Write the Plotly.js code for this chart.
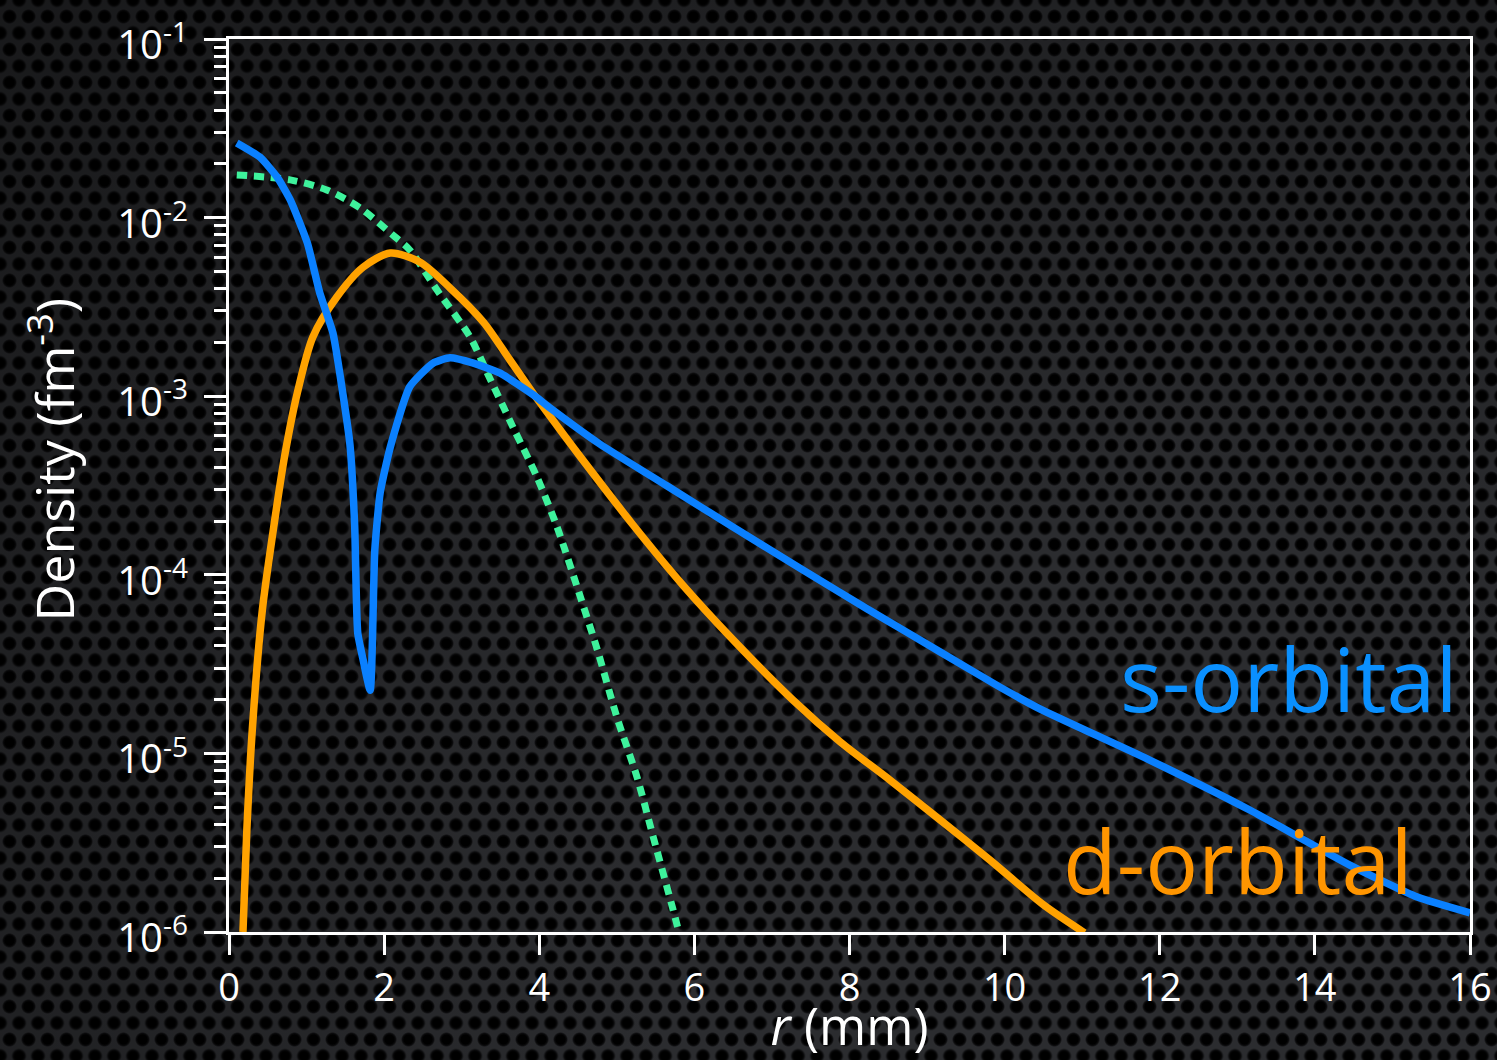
<!DOCTYPE html>
<html>
<head>
<meta charset="utf-8">
<script src="https://cdn.plot.ly/plotly-3.0.1.min.js"></script>
<style>
  html, body { margin:0; padding:0; width:1497px; height:1060px; overflow:hidden; }
  body {
    background-color:#2b2c2f;
    background-image:
      radial-gradient(circle at center, #000 4.5px, #0b0b0c 6px, rgba(0,0,0,0) 7.5px),
      radial-gradient(circle at center, #000 4.5px, #0b0b0c 6px, rgba(0,0,0,0) 7.5px);
    background-size:19px 33px, 19px 33px;
    background-position:0 0, 9.5px 16.5px;
  }
  #shade { position:absolute; left:0; top:0; width:1497px; height:1060px;
    background: radial-gradient(ellipse at 75% 85%, rgba(0,0,0,0) 30%, rgba(0,0,0,0.45) 100%); }
  #chart { position:absolute; left:0; top:0; width:1497px; height:1060px; }
</style>
</head>
<body>
<div id="shade"></div>
<div id="chart"></div>
<script>
// s-orbital density
const sX = [0.10, 0.40, 0.62, 0.79, 1.01, 1.17, 1.34, 1.47, 1.56, 1.62, 1.66, 1.73, 1.82, 1.88, 1.95, 2.08, 2.33, 2.63, 2.85, 3.15, 3.49, 3.92, 4.14, 4.78, 5.65, 6.50, 7.36, 8.23, 9.17, 9.94, 10.46, 11.87, 13.16, 14.45, 15.32, 16.0];
const sY = [0.0262, 0.0218, 0.01687, 0.01256, 0.00721, 0.00379, 0.00226, 1.02e-3, 5.33e-4, 1.9e-4, 4.72e-5, 3.33e-5, 2.26e-5, 1.38e-4, 2.9e-4, 5.20e-4, 1.13e-3, 1.53e-3, 1.64e-3, 1.53e-3, 1.35e-3, 1.02e-3, 8.59e-4, 5.40e-4, 3.14e-4, 1.85e-4, 1.09e-4, 6.44e-5, 3.70e-5, 2.35e-5, 1.77e-5, 9.18e-6, 4.82e-6, 2.37e-6, 1.57e-6, 1.28e-6];

// d-orbital density
const dX = [0.18, 0.23, 0.30, 0.43, 0.59, 0.72, 0.88, 1.08, 1.39, 1.73, 2.08, 2.46, 2.85, 3.28, 3.62, 3.92, 4.27, 4.56, 5.21, 5.85, 6.50, 7.27, 7.88, 8.52, 9.17, 9.81, 10.50, 11.03];
const dY = [1.0e-6, 3.72e-6, 1.35e-5, 6.35e-5, 2.03e-4, 4.69e-4, 1.04e-3, 2.14e-3, 3.59e-3, 5.28e-3, 6.33e-3, 5.64e-3, 4.04e-3, 2.60e-3, 1.60e-3, 1.04e-3, 6.47e-4, 4.40e-4, 1.90e-4, 8.77e-5, 4.32e-5, 1.99e-5, 1.16e-5, 7.10e-6, 4.24e-6, 2.53e-6, 1.42e-6, 9.9e-7];

// reference (dotted) density
const gX = [0.10, 0.79, 1.26, 1.69, 2.11, 2.33, 2.68, 3.11, 3.33, 3.66, 3.97, 4.23, 4.53, 4.75, 5.00, 5.26, 5.47, 5.72, 5.80];
const gY = [0.01734, 0.01626, 0.01429, 0.01133, 0.00800, 0.00659, 0.00394, 0.00214, 0.00135, 6.73e-4, 3.53e-4, 1.85e-4, 7.52e-5, 3.79e-5, 1.60e-5, 7.38e-6, 3.40e-6, 1.36e-6, 1.0e-6];

const xTickVals = [0, 2, 4, 6, 8, 10, 12, 14, 16];
const yTickVals = [1e-6, 1e-5, 1e-4, 1e-3, 1e-2, 1e-1];
const yTickText = ['10<sup>-6</sup>', '10<sup>-5</sup>', '10<sup>-4</sup>', '10<sup>-3</sup>', '10<sup>-2</sup>', '10<sup>-1</sup>'];

const minorVals = [];
for (let e = -6; e < -1; e++) for (let m = 2; m <= 9; m++) minorVals.push(m * Math.pow(10, e));

const FONT = '"Open Sans", "Noto Sans", sans-serif';

const traces = [
  { x: gX, y: gY, mode: 'lines', line: { color: '#3ef29c', width: 7, dash: '10px,7px', shape: 'spline', smoothing: 0.8 }, hoverinfo: 'skip' },
  { x: dX, y: dY, mode: 'lines', line: { color: '#ffa200', width: 7.5, shape: 'spline', smoothing: 0.8 }, hoverinfo: 'skip' },
  { x: sX, y: sY, mode: 'lines', line: { color: '#0a80ff', width: 7.5, shape: 'spline', smoothing: 0.5 }, hoverinfo: 'skip' }
];

const layout = {
  width: 1497, height: 1060,
  paper_bgcolor: 'rgba(0,0,0,0)', plot_bgcolor: 'rgba(0,0,0,0)',
  margin: { l: 229, r: 27, t: 39, b: 128 },
  showlegend: false,
  font: { family: FONT, color: '#ffffff' },
  xaxis: {
    range: [0, 16], tickvals: xTickVals, ticktext: xTickVals.map(String),
    ticks: 'outside', ticklen: 20, tickwidth: 3, tickcolor: '#fff',
    showline: true, mirror: true, linewidth: 3, linecolor: '#fff',
    showgrid: false, zeroline: false,
    tickfont: { size: 38, color: '#fff', family: FONT },
    ticklabelstandoff: 0,
    title: { text: '<i>r</i> (mm)', font: { size: 51, color: '#fff', family: FONT }, standoff: 7 }
  },
  yaxis: {
    type: 'log', range: [-6, -1], tickmode: 'array', tickvals: yTickVals, ticktext: yTickText,
    ticks: 'outside', ticklen: 22, tickwidth: 3, tickcolor: '#fff',
    minor: { tickmode: 'array', tickvals: minorVals, ticks: 'outside', ticklen: 12, tickwidth: 3, tickcolor: '#fff', showgrid: false },
    showline: true, mirror: true, linewidth: 3, linecolor: '#fff',
    showgrid: false, zeroline: false,
    tickfont: { size: 40, color: '#fff', family: FONT },
    ticklabelstandoff: 8, ticklabelshift: 6
  },
  annotations: [
    { text: 'Density (fm<sup>-3</sup>)', xref: 'paper', yref: 'paper', x: -0.143, y: 0.5286, xanchor: 'center', yanchor: 'middle',
      textangle: -90, showarrow: false, font: { size: 52, color: '#fff', family: FONT } },
    { text: 's-orbital', xref: 'paper', yref: 'paper', x: 0.992, y: 0.284, xanchor: 'right', yanchor: 'middle',
      showarrow: false, font: { size: 88, color: '#0a90ff', family: FONT } },
    { text: 'd-orbital', xref: 'paper', yref: 'paper', x: 0.956, y: 0.081, xanchor: 'right', yanchor: 'middle',
      showarrow: false, font: { size: 88, color: '#ff9500', family: FONT } }
  ]
};

Plotly.newPlot('chart', traces, layout, { displayModeBar: false, staticPlot: true });
</script>
</body>
</html>
